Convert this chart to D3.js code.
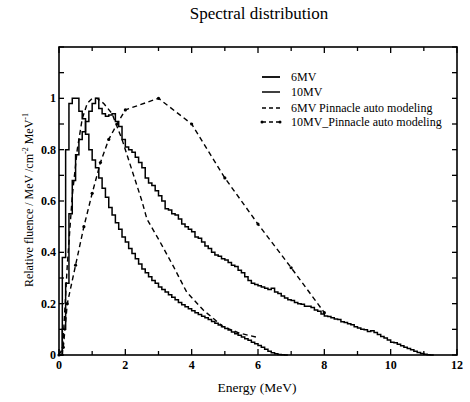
<!DOCTYPE html>
<meta charset="utf-8">
<style>
    body { margin: 0; background: #fff; }
    text { font-family: "Liberation Serif", "DejaVu Serif", serif; fill: #000; }
    .frame { fill: none; stroke: #000; stroke-width: 1.6; }
    .tick { stroke: #000; stroke-width: 1.3; }
    .hist { fill: none; stroke: #000; stroke-width: 1.5; }
    .model { fill: none; stroke: #000; stroke-width: 1.4; stroke-dasharray: 5,3.5; }
</style>
<body>
<script src="https://cdn.jsdelivr.net/npm/d3@7"></script>
<script>
    // histogram bins are 0.1 MeV wide, value = bin starting at i*0.1
    const binWidth = 0.1;
    const mv6 = [0, 0.38, 0.80, 0.98, 1.0, 1.0, 0.95, 0.92, 0.86, 0.80,
        0.76, 0.73, 0.69, 0.65, 0.615, 0.575, 0.545, 0.515, 0.49, 0.46,
        0.44, 0.415, 0.395, 0.375, 0.355, 0.335, 0.32, 0.305, 0.29, 0.28,
        0.265, 0.255, 0.245, 0.235, 0.225, 0.215, 0.205, 0.196, 0.188, 0.18,
        0.172, 0.165, 0.158, 0.151, 0.145, 0.138, 0.131, 0.124, 0.117, 0.11,
        0.103, 0.097, 0.09, 0.083, 0.077, 0.07, 0.063, 0.057, 0.05, 0.044,
        0.037, 0.03, 0.022, 0.015, 0.009, 0.005, 0.002, 0.001, 0];
    const mv10 = [0, 0.10, 0.28, 0.55, 0.68, 0.78, 0.84, 0.87, 0.91, 0.95,
        0.98, 1.0, 0.96, 0.94, 0.93, 0.935, 0.94, 0.91, 0.89, 0.84,
        0.81, 0.80, 0.79, 0.77, 0.75, 0.73, 0.69, 0.67, 0.66, 0.64,
        0.62, 0.60, 0.57, 0.565, 0.55, 0.545, 0.53, 0.51, 0.50, 0.49,
        0.48, 0.46, 0.455, 0.44, 0.425, 0.415, 0.40, 0.39, 0.385, 0.375,
        0.37, 0.36, 0.35, 0.345, 0.33, 0.32, 0.305, 0.29, 0.28, 0.275,
        0.27, 0.265, 0.26, 0.255, 0.26, 0.245, 0.24, 0.23, 0.222, 0.215,
        0.212, 0.205, 0.20, 0.198, 0.19, 0.19, 0.185, 0.175, 0.17, 0.16,
        0.152, 0.15, 0.145, 0.14, 0.138, 0.13, 0.127, 0.122, 0.118, 0.11,
        0.105, 0.10, 0.098, 0.092, 0.094, 0.088, 0.08, 0.072, 0.066, 0.058,
        0.05, 0.048, 0.042, 0.036, 0.03, 0.025, 0.02, 0.015, 0.01, 0.006,
        0.003, 0.001, 0];

    const pin6E = [0.1, 0.25, 0.4, 0.55, 0.7, 0.85, 1.0, 1.15, 1.35, 1.6, 1.75, 1.9, 2.2, 2.5, 2.65, 3.05, 3.45, 3.85, 4.35, 4.95, 5.45, 6.0];
    const pin6V = [0, 0.35, 0.62, 0.80, 0.92, 0.98, 1.0, 1.0, 0.98, 0.94, 0.89, 0.84, 0.72, 0.6, 0.53, 0.44, 0.345, 0.245, 0.175, 0.11, 0.085, 0.068];

    const pin10E = [0, 0.13, 0.25, 0.5, 0.75, 1.0, 1.25, 1.5, 1.75, 2.0, 3.0, 4.0, 5.0, 6.0, 7.0, 8.0];
    const pin10V = [0, 0.03, 0.2, 0.35, 0.5, 0.63, 0.75, 0.84, 0.9, 0.955, 1.0, 0.9, 0.69, 0.51, 0.34, 0.165];

    const xTicks = [0, 2, 4, 6, 8, 10, 12];
    const yTicks = [0, 0.2, 0.4, 0.6, 0.8, 1];
    const legendLabels = ["6MV", "10MV", "6MV  Pinnacle auto modeling", "10MV_Pinnacle auto modeling"];

    const W = 470, H = 402;
    const margin = { top: 47, right: 12, bottom: 47, left: 59 };

    const svg = d3.select("body").append("svg")
        .attr("width", W)
        .attr("height", H);

    const x = d3.scaleLinear().domain([0, 12]).range([margin.left, W - margin.right - 1]);
    const y = d3.scaleLinear().domain([0, 1.2]).range([H - margin.bottom, margin.top]);

    // frame
    svg.append("rect").attr("class", "frame")
        .attr("x", x(0)).attr("y", y(1.2))
        .attr("width", x(12) - x(0)).attr("height", y(0) - y(1.2));

    // ticks, all pointing in
    const ticks = svg.append("g");
    d3.range(0, 12.01, 1).forEach(function(v) {
        let len = v % 2 === 0 ? 6 : 4;
        ticks.append("line").attr("class", "tick")
            .attr("x1", x(v)).attr("x2", x(v)).attr("y1", y(0)).attr("y2", y(0) - len);
        ticks.append("line").attr("class", "tick")
            .attr("x1", x(v)).attr("x2", x(v)).attr("y1", y(1.2)).attr("y2", y(1.2) + len);
    });
    d3.range(0, 1.201, 0.1).forEach(function(v) {
        ticks.append("line").attr("class", "tick")
            .attr("x1", x(0)).attr("x2", x(0) + 5).attr("y1", y(v)).attr("y2", y(v));
        ticks.append("line").attr("class", "tick")
            .attr("x1", x(12)).attr("x2", x(12) - 5).attr("y1", y(v)).attr("y2", y(v));
    });

    svg.append("g").selectAll("text").data(xTicks).enter().append("text")
        .attr("x", d => x(d)).attr("y", y(0) + 14)
        .attr("text-anchor", "middle")
        .style("font-size", "12px").style("font-weight", "bold")
        .text(d => d);
    svg.append("g").selectAll("text").data(yTicks).enter().append("text")
        .attr("x", x(0) - 3).attr("y", d => y(d) + 4)
        .attr("text-anchor", "end")
        .style("font-size", "12px").style("font-weight", "bold")
        .text(d => d);

    // histograms
    const step = d3.line()
        .x(d => x(d[0]))
        .y(d => y(d[1]))
        .curve(d3.curveStepAfter);

    function histPoints(vals) {
        let pts = vals.map((v, i) => [i * binWidth, v]);
        pts.push([vals.length * binWidth, vals[vals.length - 1]]);
        return pts;
    }

    svg.append("path").attr("class", "hist").attr("d", step(histPoints(mv6)));
    svg.append("path").attr("class", "hist").attr("d", step(histPoints(mv10)));

    const poly = d3.line().x(d => x(d[0])).y(d => y(d[1]));
    const p6 = pin6E.map((e, i) => [e, pin6V[i]]);
    const p10 = pin10E.map((e, i) => [e, pin10V[i]]);
    svg.append("path").attr("class", "model").attr("d", poly(p6));
    svg.append("path").attr("class", "model").attr("d", poly(p10));
    svg.append("g").selectAll("circle").data(p10).enter().append("circle")
        .attr("cx", d => x(d[0])).attr("cy", d => y(d[1])).attr("r", 1.6)
        .attr("fill", "#000");

    // legend
    const legY = [77, 92, 108, 122];
    const leg = svg.append("g");
    legendLabels.forEach(function(lab, i) {
        let ln = leg.append("line")
            .attr("x1", 262).attr("x2", 280).attr("y1", legY[i]).attr("y2", legY[i])
            .attr("stroke", "#000");
        if (i < 2) {
            ln.attr("stroke-width", i === 0 ? 1.8 : 1.5);
        } else {
            ln.attr("stroke-width", 1.3).attr("stroke-dasharray", "4,3");
        }
        if (i === 3) {
            leg.append("circle").attr("cx", 262).attr("cy", legY[i]).attr("r", 1.5);
            leg.append("circle").attr("cx", 280).attr("cy", legY[i]).attr("r", 1.5);
        }
        leg.append("text")
            .attr("x", 291).attr("y", legY[i] + 4)
            .style("font-size", "12px")
            .text(lab);
    });

    // titles
    svg.append("text")
        .attr("x", 259).attr("y", 19)
        .attr("text-anchor", "middle")
        .style("font-size", "17px")
        .text("Spectral distribution");

    svg.append("text")
        .attr("x", 257).attr("y", 392)
        .attr("text-anchor", "middle")
        .style("font-size", "13.5px")
        .text("Energy (MeV)");

    const yl = svg.append("text")
        .attr("transform", "translate(33," + 200 + ") rotate(-90)")
        .attr("text-anchor", "middle")
        .style("font-size", "12px");
    yl.append("tspan").text("Relative fluence / MeV /cm");
    yl.append("tspan").attr("dy", -5).style("font-size", "8px").text("-2");
    yl.append("tspan").attr("dy", 5).text(" MeV");
    yl.append("tspan").attr("dy", -5).style("font-size", "8px").text("-1");
</script>
</body>
